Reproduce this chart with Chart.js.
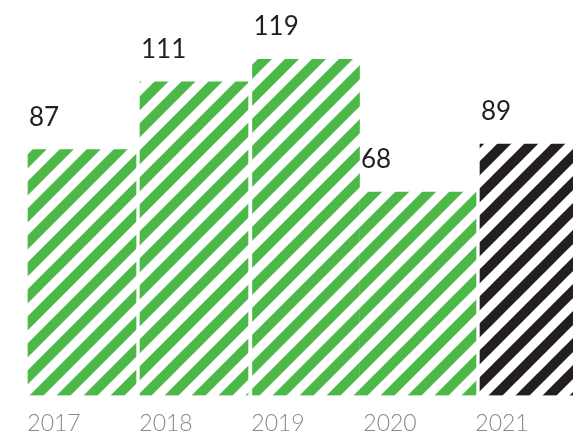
<!DOCTYPE html>
<html><head><meta charset="utf-8">
<script src="https://cdn.jsdelivr.net/npm/chart.js@4"></script>
<style>html,body{margin:0;padding:0;background:#fff;overflow:hidden}#wrap{width:590px;height:451px}</style>
</head><body><div id="wrap"><canvas id="c" width="590" height="451"></canvas></div>
<script>
// Data
const years = ['2017', '2018', '2019', '2020', '2021'];
const values = [87, 111, 119, 68, 89];          // printed value labels
const barHeights = [87, 111, 119, 72, 89];      // bar heights as drawn in the picture
const highlight = [false, false, false, false, true];

// Styles (kept separate from the data)
const barWidths = [108, 108, 107, 116, 100];
const GREEN = '#4bb848', BLACK = '#231f20';

function stripePattern(color) {
  const P = 27, L = 10;
  const c = document.createElement('canvas');
  c.width = P; c.height = P;
  const g = c.getContext('2d');
  g.fillStyle = '#fff'; g.fillRect(0, 0, P, P);
  g.strokeStyle = color; g.lineWidth = L; g.lineCap = 'square';
  for (let k = -1; k <= 1; k++) {
    g.beginPath(); g.moveTo(k * P - P, 2 * P); g.lineTo(k * P + 2 * P, -P); g.stroke();
  }
  return g.createPattern(c, 'repeat');
}

const valueLabelPlugin = {
  id: 'valueLabels',
  afterDatasetsDraw(chart) {
    const ctx = chart.ctx;
    ctx.save();
    ctx.font = '400 26px Lato';
    ctx.fillStyle = '#231f20';
    ctx.textAlign = 'left';
    ctx.textBaseline = 'alphabetic';
    chart.data.datasets.forEach((ds, i) => {
      const el = chart.getDatasetMeta(i).data[i];
      if (!el) return;
      const p = el.getProps(['x', 'y', 'width'], true);
      ctx.fillText(String(values[i]), p.x - p.width / 2 + 1, p.y - 24);
    });
    ctx.restore();
  }
};

function draw() {
  const datasets = years.map((y, i) => ({
    label: y,
    data: barHeights.map((v, j) => (j === i ? v : null)),
    backgroundColor: stripePattern(highlight[i] ? BLACK : GREEN),
    borderWidth: 0,
    barThickness: barWidths[i]
  }));
  new Chart(document.getElementById('c'), {
    type: 'bar',
    data: { labels: years, datasets },
    options: {
      responsive: false,
      animation: false,
      events: [],
      layout: { padding: { left: 26, right: 4, top: 0, bottom: 0 } },
      datasets: { bar: { grouped: false } },
      plugins: { legend: { display: false }, tooltip: { enabled: false } },
      scales: {
        y: { display: false, min: 0, max: 140 },
        x: {
          grid: { display: false, drawTicks: false },
          border: { display: false },
          ticks: {
            align: 'center', labelOffset: -28, padding: 14,
            maxRotation: 0, autoSkip: false,
            color: '#8a8a8a',
            font: { family: 'Lato', size: 23, weight: 300, lineHeight: 1.2 }
          }
        }
      }
    },
    plugins: [valueLabelPlugin]
  });
}
Promise.all([
  document.fonts.load('400 26px Lato'),
  document.fonts.load('300 23px Lato')
]).then(draw, draw);
</script>
</body></html>
